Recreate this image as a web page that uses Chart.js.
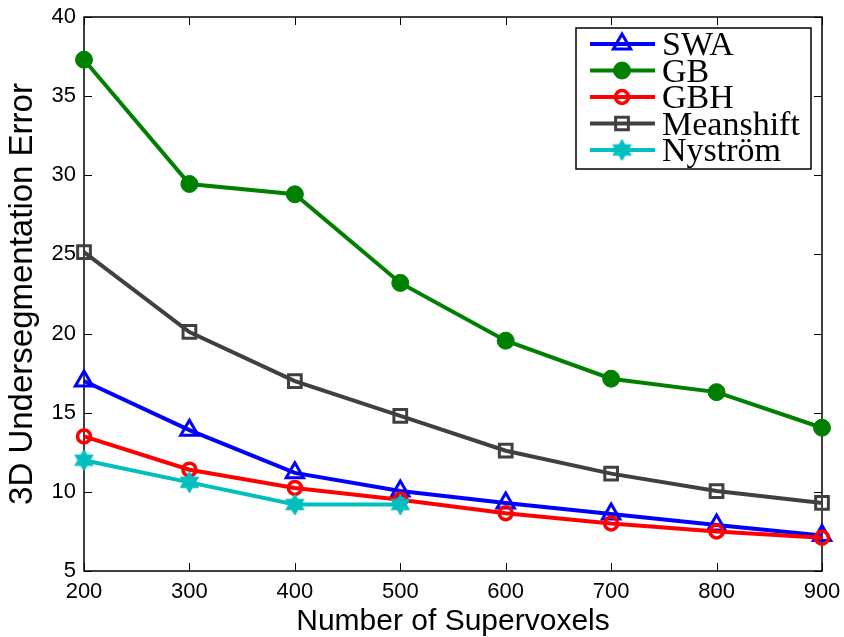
<!DOCTYPE html>
<html><head><meta charset="utf-8">
<script src="https://cdn.jsdelivr.net/npm/chart.js@4"></script>
<style>html,body{margin:0;padding:0;background:#fff}#wrap{width:844px;height:637px;position:relative}</style>
</head><body><div id="wrap"><canvas id="c"></canvas></div>
<script>
const supervoxels = [200, 300, 400, 500, 600, 700, 800, 900];
const swa       = [17.0, 13.9, 11.2, 10.05, 9.3, 8.6, 7.9, 7.25];
const gb        = [37.3, 29.45, 28.8, 23.2, 19.55, 17.15, 16.3, 14.05];
const gbh       = [13.5, 11.4, 10.25, 9.5, 8.65, 8.0, 7.5, 7.1];
const meanshift = [25.15, 20.1, 17.0, 14.8, 12.6, 11.15, 10.05, 9.3];
const nystrom   = [12.0, 10.6, 9.2, 9.2];
const xTickValues = [200, 300, 400, 500, 600, 700, 800, 900];
const yTickValues = [5, 10, 15, 20, 25, 30, 35, 40];
const seriesNames = ['SWA', 'GB', 'GBH', 'Meanshift', 'Nyström'];

function pts(vals) { return vals.map((v, i) => ({x: supervoxels[i], y: v})); }

// hexagram marker
function makeHexagram(color, R) {
  const s = Math.ceil(R * 2 + 4);
  const cv = document.createElement('canvas');
  cv.width = s; cv.height = s;
  const c = cv.getContext('2d');
  const cx = s / 2, cy = s / 2, r = R / Math.sqrt(3);
  c.beginPath();
  for (let k = 0; k < 12; k++) {
    const a = -Math.PI / 2 + k * Math.PI / 6;
    const rr = (k % 2 === 0) ? R : r;
    const px = cx + rr * Math.cos(a), py = cy + rr * Math.sin(a);
    if (k === 0) c.moveTo(px, py); else c.lineTo(px, py);
  }
  c.closePath();
  c.fillStyle = color; c.fill();
  c.lineWidth = 1; c.strokeStyle = color; c.stroke();
  return cv;
}
const hexImg = makeHexagram('#00bfbf', 10.5);

const styles = [
  {color: '#0000ff', pointStyle: 'triangle', radius: 10, pbw: 3, fill: 'rgba(0,0,0,0)'},
  {color: '#008000', pointStyle: 'circle', radius: 8.5, pbw: 1, fill: '#008000'},
  {color: '#ff0000', pointStyle: 'circle', radius: 6.5, pbw: 3.5, fill: 'rgba(0,0,0,0)'},
  {color: '#404040', pointStyle: 'rect', radius: 9, pbw: 3, fill: 'rgba(0,0,0,0)'},
  {color: '#00bfbf', pointStyle: hexImg, radius: 10, pbw: 1, fill: '#00bfbf'}
];
const seriesValues = [swa, gb, gbh, meanshift, nystrom];

const datasets = seriesValues.map((vals, i) => ({
  label: seriesNames[i],
  data: pts(vals),
  borderColor: styles[i].color,
  backgroundColor: styles[i].color,
  borderWidth: 4,
  pointStyle: styles[i].pointStyle,
  pointRadius: styles[i].radius,
  pointBorderWidth: styles[i].pbw,
  pointBorderColor: styles[i].color,
  pointBackgroundColor: styles[i].fill,
  tension: 0,
  fill: false,
  clip: false,
  order: 5 - i
}));

function drawMarker(ctx, st, x, y) {
  ctx.save();
  ctx.strokeStyle = st.color; ctx.fillStyle = st.fill; ctx.lineWidth = st.pbw;
  const r = st.radius;
  if (st.pointStyle === 'triangle') {
    ctx.beginPath();
    let rad = 0;
    ctx.moveTo(x + Math.sin(rad) * r, y - Math.cos(rad) * r);
    rad += 2 * Math.PI / 3; ctx.lineTo(x + Math.sin(rad) * r, y - Math.cos(rad) * r);
    rad += 2 * Math.PI / 3; ctx.lineTo(x + Math.sin(rad) * r, y - Math.cos(rad) * r);
    ctx.closePath(); ctx.fill(); ctx.stroke();
  } else if (st.pointStyle === 'circle') {
    ctx.beginPath(); ctx.arc(x, y, r, 0, Math.PI * 2); ctx.fill(); ctx.stroke();
  } else if (st.pointStyle === 'rect') {
    const s = Math.SQRT1_2 * r;
    ctx.beginPath(); ctx.rect(x - s, y - s, 2 * s, 2 * s); ctx.fill(); ctx.stroke();
  } else {
    const img = st.pointStyle;
    ctx.drawImage(img, x - img.width / 2, y - img.height / 2);
  }
  ctx.restore();
}

const framePlugin = {
  id: 'frame',
  beforeDraw(chart) {
    const ctx = chart.ctx;
    ctx.save(); ctx.fillStyle = '#fff'; ctx.fillRect(0, 0, chart.width, chart.height); ctx.restore();
  },
  beforeDatasetsDraw(chart) {
    const {ctx, chartArea: a, scales} = chart;
    ctx.save();
    ctx.strokeStyle = '#000'; ctx.lineWidth = 1;
    const L = 8;
    ctx.beginPath();
    xTickValues.forEach(v => {
      const px = Math.round(scales.x.getPixelForValue(v)) + 0.5;
      ctx.moveTo(px, a.bottom); ctx.lineTo(px, a.bottom - L);
      ctx.moveTo(px, a.top); ctx.lineTo(px, a.top + L);
    });
    yTickValues.forEach(v => {
      const py = Math.round(scales.y.getPixelForValue(v)) + 0.5;
      ctx.moveTo(a.left, py); ctx.lineTo(a.left + L, py);
      ctx.moveTo(a.right, py); ctx.lineTo(a.right - L, py);
    });
    ctx.stroke();
    ctx.lineWidth = 1.5;
    ctx.strokeRect(a.left, a.top, a.right - a.left, a.bottom - a.top);
    ctx.restore();
  },
  afterDraw(chart) {
    const {ctx, chartArea: a} = chart;
    const right = a.right - 11, top = a.top + 11;
    const left = right - 235, bottom = top + 141;
    ctx.save();
    ctx.fillStyle = '#fff';
    ctx.fillRect(left, top, right - left, bottom - top);
    ctx.strokeStyle = '#000'; ctx.lineWidth = 1.5;
    ctx.strokeRect(left, top, right - left, bottom - top);
    ctx.font = '34px "Liberation Serif", "DejaVu Serif", serif';
    ctx.textBaseline = 'alphabetic';
    seriesNames.forEach((name, i) => {
      const y = top + 16 + i * 26.5;
      const st = styles[i];
      ctx.strokeStyle = st.color; ctx.lineWidth = 4;
      ctx.beginPath(); ctx.moveTo(left + 14, y); ctx.lineTo(left + 79, y); ctx.stroke();
      drawMarker(ctx, st, left + 46, y);
      ctx.fillStyle = '#000';
      ctx.fillText(name, left + 86, y + 11);
    });
    ctx.restore();
  }
};

function noPad(scale) {
  scale.paddingLeft = 0; scale.paddingRight = 0; scale.paddingTop = 0; scale.paddingBottom = 0;
}

new Chart(document.getElementById('c'), {
  type: 'line',
  data: {datasets},
  options: {
    responsive: true,
    maintainAspectRatio: false,
    animation: false,
    events: [],
    layout: {padding: {top: 17, right: 22, left: 0, bottom: 0}},
    plugins: {legend: {display: false}, tooltip: {enabled: false}, title: {display: false}},
    scales: {
      x: {
        type: 'linear', min: 200, max: 900,
        afterBuildTicks(scale) { scale.ticks = xTickValues.map(v => ({value: v})); },
        afterFit(scale) { scale.height = 66; noPad(scale); },
        grid: {display: false, drawTicks: false},
        border: {display: false},
        ticks: {color: '#000', padding: 8, maxRotation: 0, autoSkip: false,
                font: {family: '"Liberation Sans", Arial, sans-serif', size: 22}},
        title: {display: true, text: 'Number of Supervoxels', color: '#000',
                font: {family: '"Liberation Sans", Arial, sans-serif', size: 30, lineHeight: 1},
                padding: {top: 0, bottom: 0}}
      },
      y: {
        type: 'linear', min: 5, max: 40,
        afterBuildTicks(scale) { scale.ticks = yTickValues.map(v => ({value: v})); },
        afterFit(scale) { scale.width = 84; noPad(scale); },
        grid: {display: false, drawTicks: false},
        border: {display: false},
        ticks: {color: '#000', padding: 8, autoSkip: false,
                font: {family: '"Liberation Sans", Arial, sans-serif', size: 22}},
        title: {display: true, text: '3D Undersegmentation Error', color: '#000',
                font: {family: '"Liberation Sans", Arial, sans-serif', size: 33, lineHeight: 1.2},
                padding: {top: 3, bottom: 0}}
      }
    }
  },
  plugins: [framePlugin]
});
</script>
</body></html>
